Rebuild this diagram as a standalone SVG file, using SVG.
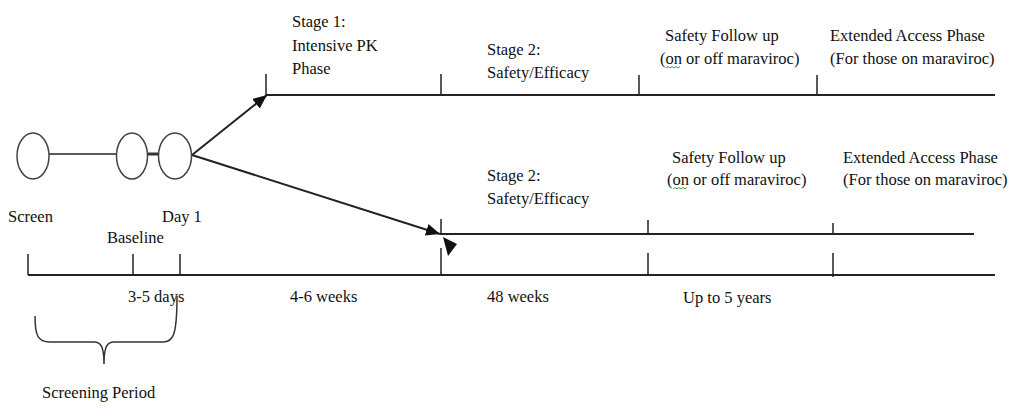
<svg xmlns="http://www.w3.org/2000/svg" width="1013" height="408" viewBox="0 0 1013 408">
<style>
text{font-family:"Liberation Serif","Times New Roman",serif;font-size:16.5px;fill:#111}
.ln{stroke:#222;stroke-width:2;fill:none}
.tk{stroke:#222;stroke-width:1.5;fill:none}
.nd{fill:#fff;stroke:#444;stroke-width:1.5}
.sq{stroke:#4a9a3a;stroke-width:1;fill:none}
</style>
<defs>
<marker id="ah" viewBox="0 0 14 12" refX="14" refY="6" markerWidth="14" markerHeight="12" markerUnits="userSpaceOnUse" orient="auto">
<path d="M0,0 L14,6 L0,12 Z" fill="#111"/>
</marker>
</defs>
<rect width="1013" height="408" fill="#fff"/>
<g id="connectors">
<line class="tk" x1="49" y1="154" x2="116" y2="154"/>
<line x1="147" y1="154" x2="159" y2="154" stroke="#333" stroke-width="3"/>
<line class="ln" x1="192" y1="155" x2="267" y2="95" marker-end="url(#ah)"/>
<line class="ln" x1="192" y1="155" x2="440" y2="234" marker-end="url(#ah)"/>
<polygon points="443,237 457,244 448,256" fill="#111"/>
</g>
<g id="circle-screen"><ellipse class="nd" cx="33" cy="156" rx="16" ry="23"/></g>
<g id="circle-baseline"><ellipse class="nd" cx="132" cy="156" rx="15.5" ry="23"/></g>
<g id="circle-day1"><ellipse class="nd" cx="175" cy="156" rx="16.5" ry="23"/></g>
<g id="arm1">
<line class="ln" x1="266" y1="95" x2="995" y2="95"/>
<line class="tk" x1="266" y1="74" x2="266" y2="95"/>
<line class="tk" x1="441" y1="74" x2="441" y2="95"/>
<line class="tk" x1="639" y1="75" x2="639" y2="95"/>
<line class="tk" x1="817" y1="75" x2="817" y2="95"/>
<text x="292" y="27">Stage 1:</text>
<text x="292" y="51">Intensive PK</text>
<text x="292" y="74">Phase</text>
<text x="487" y="55">Stage 2:</text>
<text x="487" y="78">Safety/Efficacy</text>
<text x="665" y="41">Safety Follow up</text>
<text x="660" y="64">(on or off maraviroc)</text>
<path class="sq" d="M666,68 l2,-1.5 l2,1.5 l2,-1.5 l2,1.5 l2,-1.5 l2,1.5 l2,-1.5"/>
<text x="830" y="41">Extended Access Phase</text>
<text x="830" y="64">(For those on maraviroc)</text>
</g>
<g id="arm2">
<line class="ln" x1="440" y1="234" x2="974" y2="234"/>
<line class="tk" x1="441" y1="219" x2="441" y2="234"/>
<line class="tk" x1="648" y1="220" x2="648" y2="234"/>
<line class="tk" x1="833" y1="223" x2="833" y2="234"/>
<text x="487" y="181">Stage 2:</text>
<text x="487" y="204">Safety/Efficacy</text>
<text x="672" y="163">Safety Follow up</text>
<text x="667" y="185">(on or off maraviroc)</text>
<path class="sq" d="M673,189 l2,-1.5 l2,1.5 l2,-1.5 l2,1.5 l2,-1.5 l2,1.5 l2,-1.5"/>
<text x="843" y="163">Extended Access Phase</text>
<text x="843" y="185">(For those on maraviroc)</text>
</g>
<g id="timeline">
<line class="ln" x1="28" y1="275" x2="995" y2="275"/>
<line class="tk" x1="28" y1="254" x2="28" y2="275"/>
<line class="tk" x1="133" y1="254" x2="133" y2="275"/>
<line class="tk" x1="180" y1="254" x2="180" y2="275"/>
<line class="tk" x1="441" y1="248" x2="441" y2="275"/>
<line class="tk" x1="648" y1="253" x2="648" y2="275"/>
<line class="tk" x1="833" y1="253" x2="833" y2="277"/>
<text x="8" y="222">Screen</text>
<text x="107" y="243">Baseline</text>
<text x="162" y="222">Day 1</text>
<text x="128" y="302">3-5 days</text>
<text x="290" y="302">4-6 weeks</text>
<text x="487" y="302">48 weeks</text>
<text x="683" y="303">Up to 5 years</text>
</g>
<g id="screening-period">
<path d="M35,316 C35,336 38,342 50,342 L94,342 C101,342 104,347 104,364 C104,347 107,342 114,342 L163,342 C173,342 177,336 177,296" fill="none" stroke="#333" stroke-width="1.5"/>
<text x="42" y="398">Screening Period</text>
</g>
</svg>
